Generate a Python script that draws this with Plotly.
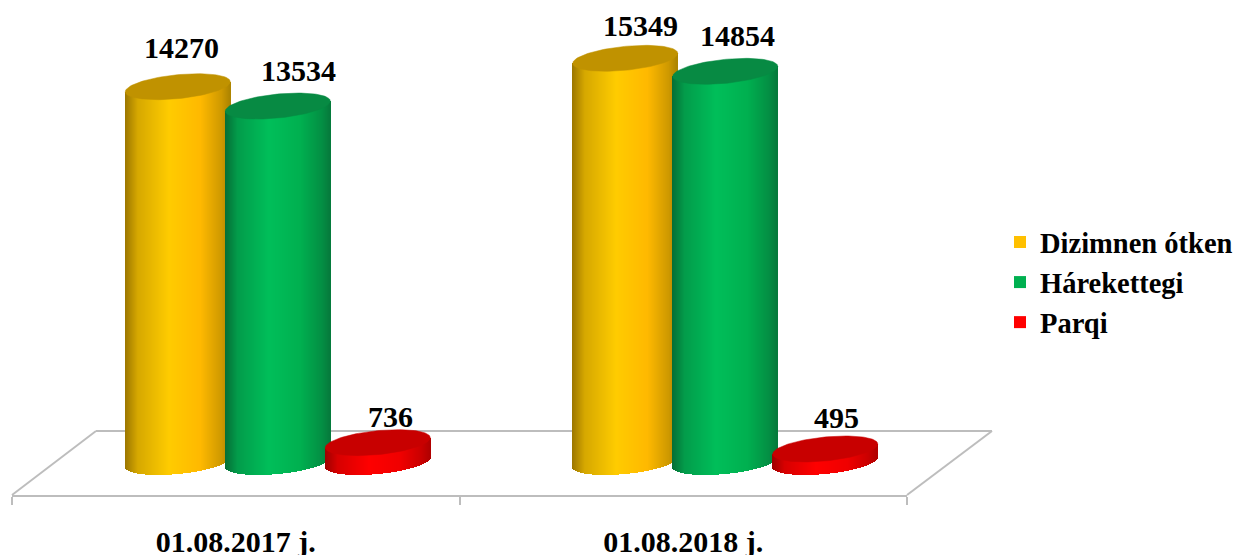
import numpy as np
import plotly.graph_objects as go

# ---------- data ----------
categories = ["01.08.2017 j.", "01.08.2018 j."]
series_names = ["Dizimnen ótken", "Hárekettegi", "Parqi"]
dizimnen = [14270, 15349]
harekettegi = [13534, 14854]
parqi = [736, 495]
series_values = [dizimnen, harekettegi, parqi]

# ---------- styles ----------
EDGE = ["#AD8400", "#067A3C", "#B00000"]
MID = ["#FFCC00", "#00BF5A", "#FF0000"]
MID2 = ["#FFB900", "#00B050", "#F00000"]
TOP = ["#C09200", "#078A43", "#C80000"]
LEGEND_COLORS = ["#FFC000", "#00B050", "#FF0000"]
GRAY = "#BDBDBD"
SERIF = "Liberation Serif"
LABEL_SHIFT = [[(4, 39), (15, 33)], [(21, 36), (12, 36)], [(13, 26), (11, 31)]]

# ---------- geometry (pixels of the plot area) ----------
W, H = 1242, 555
PLOT_L, PLOT_R, PLOT_B = 12, 907, 495
BASE_PX = 462                # y pixel of value 0
PX_PER_UNIT = 0.0263
PX_PER_CAT = (PLOT_R - PLOT_L) / 2
SER_STEP = 100 / PX_PER_CAT
DEPTH = 42 / PX_PER_CAT
A, B, C = 52.5, 12.0, 5.0    # ellipse half-width, half-height, tilt (px)


def u(px):
    return px / PX_PER_UNIT


def rgb(h):
    return np.array([int(h[i:i + 2], 16) for i in (1, 3, 5)], float)


def shade(t, s):
    stops = [0, 0.12, 0.42, 0.72, 0.92, 1]
    cols = [rgb(EDGE[s]) * 0.9, rgb(EDGE[s]) * 0.5 + rgb(MID[s]) * 0.5, rgb(MID[s]),
            rgb(MID2[s]), rgb(EDGE[s]) * 0.6 + rgb(MID2[s]) * 0.4, rgb(EDGE[s])]
    c = [np.interp(t, stops, [k[i] for k in cols]) for i in range(3)]
    return "rgb(%d,%d,%d)" % tuple(c)


fig = go.Figure()
tt = np.linspace(0, 2 * np.pi, 120)
N = 105
offs = (np.arange(N) + 0.5) / N * 2 - 1

for s, vals in enumerate(series_values):
    for g, v in enumerate(vals):
        cx = g + DEPTH + (s - 1) * SER_STEP
        lower = C * offs - B * np.sqrt(1 - offs ** 2)   # lower rim, px up from centre
        centre = C * offs
        xs = cx + offs * A / PX_PER_CAT
        base = u(lower)
        top = v + u(centre)
        fig.add_trace(go.Bar(
            x=xs, y=top - base, base=base, width=1.35 / PX_PER_CAT,
            marker=dict(color=[shade((o + 1) / 2, s) for o in offs], line=dict(width=0)),
            showlegend=False, hoverinfo="skip"))
        fig.add_trace(go.Scatter(
            x=cx + A * np.cos(tt) / PX_PER_CAT,
            y=v + u(C * np.cos(tt) + B * np.sin(tt)),
            mode="lines", fill="toself", fillcolor=TOP[s],
            line=dict(color=TOP[s], width=0.5),
            showlegend=False, hoverinfo="skip"))

for s, name in enumerate(series_names):
    fig.add_trace(go.Scatter(
        x=[None], y=[None], mode="markers", name="<b>%s</b>" % name,
        legendgroup=name,
        marker=dict(symbol="square", size=14, color=LEGEND_COLORS[s])))

annotations = []
for s, vals in enumerate(series_values):
    for g, v in enumerate(vals):
        annotations.append(dict(
            x=g + DEPTH + (s - 1) * SER_STEP, y=v, xref="x", yref="y",
            text="<b>%d</b>" % v, showarrow=False,
            xshift=LABEL_SHIFT[s][g][0], yshift=LABEL_SHIFT[s][g][1],
            font=dict(family=SERIF, size=30, color="#000000")))


def px_x(p):
    return (p - PLOT_L) / (PLOT_R - PLOT_L)


def px_y(p):
    return (PLOT_B - p) / PLOT_B


floor = [((12, 495), (96, 431)), ((96, 431), (992, 431)), ((992, 431), (907, 495))]
shapes = [dict(type="line", xref="paper", yref="paper", layer="below",
               x0=px_x(a[0]), y0=px_y(a[1]), x1=px_x(b[0]), y1=px_y(b[1]),
               line=dict(color=GRAY, width=2)) for a, b in floor]

fig.update_layout(
    width=W, height=H,
    margin=dict(l=PLOT_L, r=W - PLOT_R, t=0, b=H - PLOT_B, autoexpand=False),
    paper_bgcolor="white", plot_bgcolor="white",
    barmode="overlay", bargap=0,
    xaxis=dict(range=[-0.5, 1.5], tickvals=[0, 1],
               ticktext=["<b>%s</b>" % c for c in categories],
               tickfont=dict(family=SERIF, size=30, color="#000000"),
               ticks="", showline=True, linecolor=GRAY, linewidth=2, showgrid=False,
               minor=dict(tickvals=[-0.5, 0.5, 1.5], ticks="outside", ticklen=8,
                          tickwidth=2, tickcolor=GRAY, showgrid=False),
               zeroline=False, ticklabelstandoff=19),
    yaxis=dict(range=[u(BASE_PX - PLOT_B), u(BASE_PX)], visible=False),
    legend=dict(x=px_x(1000), y=px_y(217), xanchor="left", yanchor="top",
                font=dict(family=SERIF, size=28.5, color="#000000"),
                itemsizing="constant", tracegroupgap=0, itemclick=False,
                bgcolor="rgba(0,0,0,0)"),
    showlegend=True,
    annotations=annotations, shapes=shapes,
)
fig.write_html("out.html", post_script="document.body.style.margin='0';",
               config={"displayModeBar": False})
